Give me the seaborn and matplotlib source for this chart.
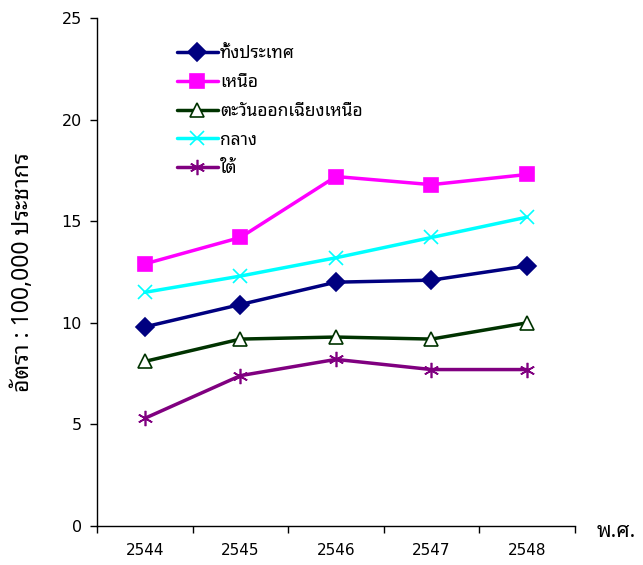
import matplotlib
matplotlib.use("Agg")
import matplotlib.pyplot as plt
import numpy as np
import pandas as pd
import seaborn as sns

years = ["2544", "2545", "2546", "2547", "2548"]
series_names = ["ทั้งประเทศ", "เหนือ", "ตะวันออกเฉียงเหนือ", "กลาง", "ใต้"]
whole_country = [9.8, 10.9, 12.0, 12.1, 12.8]
north = [12.9, 14.2, 17.2, 16.8, 17.3]
northeast = [8.1, 9.2, 9.3, 9.2, 10.0]
central = [11.5, 12.3, 13.2, 14.2, 15.2]
south = [5.3, 7.4, 8.2, 7.7, 7.7]
y_ticks = [0, 5, 10, 15, 20, 25]

sns.set_theme(style="white", rc={"text.color": "black",
                                 "axes.labelcolor": "black",
                                 "xtick.color": "black",
                                 "ytick.color": "black"})
plt.rcParams["font.family"] = ["Noto Sans Thai Looped", "DejaVu Sans"]

colors = ["#000080", "#FF00FF", "#003300", "#00FFFF", "#800080"]
markers = ["D", "s", "^", "x", (6, 2, 0)]
msizes = [9.5, 10, 10, 10, 11]
face = ["#000080", "#FF00FF", "white", "#00FFFF", "#800080"]

df = pd.DataFrame({
    "year": years * 5,
    "x": list(range(len(years))) * 5,
    "rate": whole_country + north + northeast + central + south,
    "region": [n for n in series_names for _ in years],
})

fig = plt.figure(figsize=(6.43, 5.65), dpi=100)
ax = fig.add_axes([0.1509, 0.0690, 0.7430, 0.8991])

for name, c, m, ms, fc in zip(series_names, colors, markers, msizes, face):
    sub = df[df["region"] == name]
    sns.lineplot(data=sub, x="x", y="rate", ax=ax, color=c, linewidth=2.5,
                 marker=m, markersize=ms, markerfacecolor=fc,
                 markeredgecolor=c, markeredgewidth=1.2, label=name)

ax.set_xlim(-0.5, len(years) - 0.5)
ax.set_ylim(0, 25)
ax.set_yticks(y_ticks)
ax.set_yticklabels([str(v) for v in y_ticks], fontsize=11.5,
                   family=["DejaVu Sans"])
ax.set_xticks(np.arange(-0.5, len(years), 1.0))
ax.set_xticklabels([])
ax.set_xticks(range(len(years)), minor=True)
ax.set_xticklabels(years, minor=True, fontsize=11, family=["DejaVu Sans"])
ax.tick_params(axis="x", which="major", direction="out", length=5, width=1,
               color="black", bottom=True)
ax.tick_params(axis="x", which="minor", length=0, pad=12)
ax.tick_params(axis="y", direction="out", length=5, width=1, color="black",
               left=True, pad=6)

for s in ["top", "right"]:
    ax.spines[s].set_visible(False)
for s in ["left", "bottom"]:
    ax.spines[s].set_color("black")
    ax.spines[s].set_linewidth(1)

ax.set_xlabel("")
ax.set_ylabel("อัตรา : 100,000 ประชากร", fontsize=16.5, labelpad=19)
fig.text(0.928, 0.060, "พ.ศ.", fontsize=15, fontweight="bold", ha="left",
         va="center")

leg = ax.legend(loc="upper left", bbox_to_anchor=(0.152, 0.962), frameon=False,
                fontsize=12.5, handlelength=2.4, labelspacing=0.62,
                handletextpad=0.1, borderaxespad=0)

fig.savefig("out.png", dpi=100)
